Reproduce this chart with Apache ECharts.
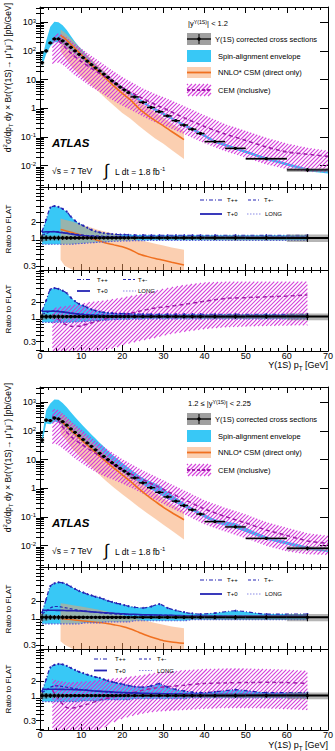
<!DOCTYPE html>
<html><head><meta charset="utf-8">
<script src="https://cdn.jsdelivr.net/npm/echarts@6/dist/echarts.min.js"></script>
<style>html,body{margin:0;padding:0;background:#fff}#c{width:335px;height:751px}</style>
</head><body><div id="c"></div>
<script>
// ---------------- DATA ----------------
const ptCenters = [0.5,1.5,2.5,3.5,4.5,5.5,6.5,7.5,8.5,9.5,10.5,11.5,12.5,13.5,14.5,15.5,16.5,17.5,18.5,19.5,20.5,21.5,23,25,27,29,31,33,35,37,39,42.5,47.5,55,65];
const ptLow = [0,1,2,3,4,5,6,7,8,9,10,11,12,13,14,15,16,17,18,19,20,21,22,24,26,28,30,32,34,36,38,40,45,50,60];
const ptHigh = [1,2,3,4,5,6,7,8,9,10,11,12,13,14,15,16,17,18,19,20,21,22,24,26,28,30,32,34,36,38,40,45,50,60,70];

const xsecCentral = [39,100,190,263,263,224,174,132,100,76,58,44,33,25.7,20,15.5,12,9.1,7.1,5.5,4.4,3.5,2.5,1.62,1.07,0.76,0.54,0.37,0.26,0.186,0.132,0.069,0.040,0.0174,0.0071];
const xsecForward = [48,240,230,282,263,209,158,117,89,68,50,38,29,22,16.6,12.9,10,7.8,6.2,4.9,4.0,3.2,2.3,1.55,1.05,0.72,0.5,0.355,0.25,0.178,0.126,0.069,0.045,0.018,0.0081];
const relUncCentral = [0.15,0.12,0.1,0.1,0.1,0.09,0.08,0.08,0.07,0.07,0.07,0.06,0.06,0.06,0.06,0.06,0.06,0.06,0.06,0.06,0.06,0.06,0.06,0.06,0.06,0.07,0.07,0.07,0.08,0.08,0.08,0.09,0.1,0.1,0.16];
const relUncForward = [0.16,0.13,0.11,0.1,0.1,0.09,0.08,0.08,0.07,0.07,0.07,0.06,0.06,0.06,0.06,0.06,0.06,0.06,0.06,0.06,0.06,0.06,0.06,0.06,0.06,0.07,0.07,0.07,0.08,0.08,0.08,0.09,0.1,0.1,0.16];

// spin-alignment ratios to FLAT (at bin centres)
const tppCentral = [1.32,2.2,3.7,3.95,3.8,3.5,3.1,2.5,2.1,1.85,1.7,1.55,1.42,1.33,1.27,1.23,1.2,1.18,1.16,1.15,1.15,1.14,1.13,1.13,1.12,1.12,1.12,1.12,1.12,1.12,1.12,1.12,1.12,1.12,1.12];
const tpmCentral = [1.12,1.2,1.3,1.32,1.3,1.27,1.24,1.2,1.17,1.15,1.13,1.11,1.1,1.09,1.08,1.07,1.07,1.06,1.06,1.06,1.05,1.05,1.05,1.05,1.05,1.05,1.05,1.05,1.05,1.05,1.05,1.05,1.05,1.05,1.05];
const tp0Central = [1.28,1.3,1.3,1.3,1.28,1.25,1.22,1.18,1.15,1.12,1.1,1.08,1.07,1.06,1.05,1.05,1.04,1.04,1.04,1.04,1.03,1.03,1.03,1.03,1.03,1.03,1.03,1.03,1.03,1.03,1.03,1.03,1.03,1.03,1.03];
const longCentral = [0.76,0.76,0.76,0.76,0.76,0.76,0.76,0.76,0.77,0.78,0.79,0.8,0.81,0.82,0.83,0.84,0.85,0.86,0.87,0.87,0.88,0.88,0.89,0.89,0.9,0.9,0.9,0.9,0.9,0.9,0.9,0.9,0.9,0.9,0.9];
const tppForward = [1.24,2.2,3.9,4.4,4.6,4.5,4.2,3.8,3.45,3.15,2.95,2.75,2.6,2.45,2.35,2.2,2.05,1.95,1.85,1.78,1.7,1.62,1.55,1.5,1.6,1.78,1.5,1.35,1.25,1.18,1.15,1.2,1.33,1.15,1.15];
const tpmForward = [1.15,1.3,1.5,1.6,1.6,1.55,1.5,1.45,1.4,1.36,1.33,1.3,1.27,1.24,1.22,1.2,1.18,1.16,1.15,1.14,1.13,1.12,1.11,1.1,1.1,1.1,1.09,1.08,1.07,1.07,1.06,1.06,1.06,1.05,1.05];
const tp0Forward = [1.35,1.36,1.36,1.36,1.35,1.35,1.34,1.34,1.33,1.32,1.31,1.29,1.27,1.25,1.24,1.22,1.21,1.2,1.18,1.17,1.16,1.15,1.14,1.12,1.11,1.1,1.09,1.08,1.07,1.06,1.06,1.05,1.05,1.05,1.05];
const longForward = [0.75,0.75,0.75,0.75,0.75,0.75,0.75,0.75,0.75,0.75,0.78,0.78,0.78,0.78,0.78,0.82,0.82,0.82,0.82,0.82,0.82,0.82,0.86,0.86,0.86,0.86,0.86,0.86,0.86,0.9,0.9,0.9,0.9,0.9,0.9];

// spin-alignment envelope in the cross-section panel
const envPt = [0.5,1.5,2.5,3.5,4.5,5.5,6.5,7.5,8.5,9.5,10.5,11.5,12.5,13.5,14.5,15.5,16.5,17.5,18.5,19.5,20.5,21.5,23,25,27,29,31,33,35,37,39,42.5,47.5,55,65,70];
const envUpCentral = [51,220,700,1040,1000,784,540,330,210,141,99,68,47,34,25.4,19,14.4,10.7,8.2,6.3,5.1,4.0,2.8,1.83,1.2,0.85,0.6,0.41,0.29,0.21,0.148,0.077,0.045,0.0195,0.008,0.0065];
const envLoCentral = [30,76,144,200,200,170,132,100,77,59,46,35,27,21,16.6,13,10.2,7.8,6.2,4.8,3.9,3.1,2.2,1.46,0.96,0.68,0.49,0.33,0.23,0.167,0.119,0.062,0.036,0.0157,0.0064,0.0053];
const envUpForward = [60,528,900,1240,1210,940,664,445,307,214,148,105,75,54,39,28.4,20.5,15.2,11.5,8.7,6.8,5.2,3.6,2.3,1.68,1.28,0.75,0.48,0.31,0.21,0.145,0.083,0.06,0.0207,0.0093,0.0068];
const envLoForward = [36,180,172,211,197,157,118,88,67,51,39,29.6,22.6,17.2,12.9,10.6,8.2,6.4,5.1,4.0,3.3,2.6,2.0,1.33,0.9,0.62,0.43,0.305,0.215,0.16,0.113,0.062,0.04,0.0162,0.0073,0.006];

// NNLO* CSM (direct only)
const csmPt = [5,6,8,10,12,14,16,18,20,22,24,26,28,30,32,35];
const csmCentral = [347,275,145,74,39,20.4,11,5.9,3.3,1.95,1.0,0.59,0.37,0.245,0.155,0.081];
const csmUpCentral = [562,437,229,115,60,32,17.8,9.5,5.4,3.2,1.82,1.12,0.71,0.46,0.295,0.158];
const csmLoCentral = [95,60,25,13.2,7.2,4.1,2.2,1.22,0.69,0.43,0.245,0.145,0.089,0.058,0.035,0.017];
const csmRatioCentral = [1.43,1.38,1.25,1.13,1.02,0.9,0.8,0.74,0.68,0.6,0.5,0.45,0.41,0.38,0.35,0.31];
const csmRatioUpCentral = [2.3,2.2,2.0,1.75,1.6,1.42,1.3,1.2,1.1,1.0,0.9,0.85,0.78,0.72,0.66,0.6];
const csmRatioLoCentral = [0.39,0.3,0.22,0.2,0.19,0.18,0.16,0.15,0.14,0.13,0.12,0.11,0.1,0.09,0.08,0.065];
const csmForward = [224,170,91,50,27.5,15.3,8.7,5.0,2.95,1.74,0.97,0.57,0.35,0.217,0.143,0.080];
const csmUpForward = [437,327,174,94,50,26.7,14.8,8.3,4.85,2.88,1.71,1.07,0.68,0.43,0.28,0.156];
const csmLoForward = [82,55,22.5,11.7,6.3,3.4,1.82,1.04,0.62,0.375,0.223,0.138,0.087,0.054,0.034,0.0163];
const csmRatioForward = [0.95,0.93,0.9,0.86,0.83,0.8,0.77,0.72,0.67,0.6,0.52,0.45,0.4,0.36,0.34,0.32];
const csmRatioUpForward = [1.85,1.8,1.7,1.6,1.5,1.4,1.3,1.2,1.1,1.0,0.92,0.85,0.78,0.72,0.67,0.62];
const csmRatioLoForward = [0.35,0.3,0.22,0.2,0.19,0.18,0.16,0.15,0.14,0.13,0.12,0.11,0.1,0.09,0.08,0.065];

// CEM (inclusive)
const cemPt = [3,4,5,6,7,8,10,12,14,16,18,20,22,25,28,31,35,40,45,50,55,60,65,70];
const cemCentral = [245,250,195,140,98,72,43,27.5,18,12.3,8.0,5.3,3.7,2.2,1.36,0.87,0.47,0.23,0.126,0.076,0.045,0.030,0.025,0.021];
const cemUpCentral = [335,407,392,330,257,200,122,76,48,30,19,12.3,8.5,4.9,3.16,2.14,1.2,0.57,0.28,0.163,0.094,0.059,0.042,0.033];
const cemLoCentral = [34,40,37,29.5,22,16,10,6.1,4.1,2.7,1.77,1.23,0.89,0.52,0.32,0.225,0.126,0.06,0.032,0.019,0.011,0.0075,0.0062,0.0058];
const cemForward = [326,263,176,110,76,56,35,22.5,14.9,9.9,6.6,4.5,3.23,2.0,1.26,0.78,0.41,0.19,0.104,0.062,0.035,0.0226,0.0146,0.012];
const cemUpForward = [552,578,468,355,263,195,115,66,40,25,15.9,10.4,7.2,4.2,2.6,1.6,0.85,0.377,0.209,0.123,0.066,0.042,0.027,0.022];
const cemLoForward = [33,35,28,22,16.6,12.3,7.7,5.0,3.4,2.5,1.94,1.46,1.07,0.65,0.4,0.24,0.126,0.055,0.031,0.018,0.0099,0.0063,0.005,0.0048];
const cemRatioPt = [3,4,5,6,7,8,10,12,14,16,18,20,22,25,28,31,35,40,45,50,55,60,65];
const cemRatioCentral = [1.1,0.95,0.8,0.7,0.64,0.62,0.64,0.72,0.8,0.9,1.0,1.08,1.17,1.35,1.52,1.62,1.8,2.1,2.4,2.5,2.6,2.7,2.85];
const cemRatioUpCentral = [1.5,1.55,1.6,1.65,1.7,1.75,1.85,2.0,2.1,2.2,2.35,2.5,2.7,3.0,3.5,4.0,4.6,5.2,5.4,5.4,5.4,5.4,5.4];
const cemRatioLoCentral = [0.15,0.15,0.15,0.15,0.14,0.14,0.15,0.16,0.18,0.2,0.22,0.25,0.28,0.32,0.36,0.42,0.48,0.55,0.6,0.62,0.64,0.65,0.66];
const cemRatioForward = [1.3,0.95,0.75,0.6,0.55,0.55,0.6,0.68,0.78,0.87,0.95,1.02,1.12,1.3,1.45,1.55,1.65,1.8,1.85,1.88,1.9,1.88,1.8];
const cemRatioUpForward = [2.2,2.1,2.0,1.95,1.9,1.9,1.95,2.0,2.1,2.2,2.3,2.35,2.5,2.7,3.0,3.2,3.4,3.6,3.7,3.7,3.6,3.5,3.3];
const cemRatioLoForward = [0.13,0.12,0.12,0.12,0.12,0.12,0.13,0.15,0.18,0.22,0.28,0.33,0.37,0.42,0.46,0.48,0.5,0.53,0.55,0.55,0.54,0.52,0.5];

const xTicks = [0,10,20,30,40,50,60,70];
const mainLabelValues = [0.01,0.1,1,10,100,1000];
const ratioLabelValues = [0.3,1,2];
const rapidityLabels = ['|y{s|\u03A5(1S)}| < 1.2', '1.2 \u2264 |y{s|\u03A5(1S)}| < 2.25'];

// ---------------- STYLE / LAYOUT ----------------
const FONT = "'Liberation Sans', Arial, Helvetica, sans-serif";
const BLUE = '#38c8f6';
const NAVY = '#2424b4';
const ORANGE = '#f07020';
const ORANGE_FILL = 'rgba(248,160,100,0.5)';
const MAGENTA = '#a020a8';
const HATCH_COLOR = '#d030d8';
const HATCH = {hatch: HATCH_COLOR};
const HATCH_W = 1.15;

// diagonal ("/") hatch line segments inside a pixel polygon
function hatchSegments(poly, step) {
  let minC = Infinity, maxC = -Infinity;
  poly.forEach(p => { const c = p[0] + p[1]; if (c < minC) minC = c; if (c > maxC) maxC = c; });
  const segs = [];
  const n = poly.length;
  for (let c = Math.ceil(minC / step) * step; c <= maxC; c += step) {
    const xs = [];
    for (let i = 0; i < n; i++) {
      const p = poly[i], q = poly[(i + 1) % n];
      const fp = p[0] + p[1] - c, fq = q[0] + q[1] - c;
      if ((fp < 0) !== (fq < 0)) { const t = fp / (fp - fq); xs.push(p[0] + t * (q[0] - p[0])); }
    }
    xs.sort((a, b) => a - b);
    for (let k = 0; k + 1 < xs.length; k += 2) segs.push([xs[k], c - xs[k], xs[k + 1], c - xs[k + 1]]);
  }
  return segs;
}
function hatchPath(poly, step) {
  return hatchSegments(poly, step).map(s => 'M' + s[0].toFixed(2) + ' ' + s[1].toFixed(2) + 'L' + s[2].toFixed(2) + ' ' + s[3].toFixed(2)).join('');
}

const gridTops = [7, 187, 270, 387, 567, 649];
const gridHeights = [180, 83, 81, 180, 82, 81];
const yRanges = [[0.0018, 3400], [0.25, 9], [0.19, 9.5], [0.0018, 3400], [0.25, 9], [0.19, 9.5]];

const grids = gridTops.map((t, i) => ({left: 40, top: t, width: 288, height: gridHeights[i], show: false, outerBoundsMode: 'none'}));

const xAxes = [];
gridTops.forEach((t, g) => {
  const showLab = (g === 2 || g === 5);
  ['bottom', 'top'].forEach(pos => {
    xAxes.push({
      type: 'value', gridIndex: g, position: pos, min: 0, max: 70, interval: 10,
      axisLine: {show: true, onZero: false, lineStyle: {color: '#000', width: 1}},
      axisTick: {show: true, inside: true, length: 6, lineStyle: {color: '#000', width: 1}},
      minorTick: {show: true, splitNumber: 5, length: 3, lineStyle: {color: '#000', width: 1}},
      axisLabel: {show: showLab && pos === 'bottom', color: '#000', fontSize: 9, fontFamily: FONT, margin: 0},
      splitLine: {show: false}, minorSplitLine: {show: false}
    });
  });
});

function logMinors(lo, hi) {
  const out = [];
  for (let e = -4; e <= 4; e++) for (let k = 2; k <= 9; k++) {
    const v = parseFloat((k * Math.pow(10, e)).toPrecision(6));
    if (v > lo && v < hi) out.push(v);
  }
  return out;
}
function mainFmt(v) {
  const e = Math.round(Math.log10(v));
  if (e === 0) return '1';
  if (e === 1) return '10';
  return '10{s|' + (e < 0 ? '-' : '') + Math.abs(e) + '}';
}
const yAxes = [];
gridTops.forEach((t, g) => {
  const isMain = (g % 3 === 0);
  const [mn, mx] = yRanges[g];
  const majors = isMain ? mainLabelValues : [1];
  const minors = logMinors(mn, mx).filter(v => majors.indexOf(v) < 0);
  const base = {type: 'log', logBase: 10, gridIndex: g, min: mn, max: mx, splitLine: {show: false}, minorTick: {show: false}};
  const lab = {
    show: true, customValues: isMain ? mainLabelValues : ratioLabelValues, color: '#000', fontSize: 9, fontFamily: FONT, margin: 4,
    formatter: isMain ? mainFmt : (v => String(v)),
    rich: {s: {fontSize: 6, fontFamily: FONT, verticalAlign: 'top', lineHeight: 7, color: '#000'}}
  };
  ['left', 'right'].forEach(pos => {
    yAxes.push(Object.assign({}, base, {position: pos,
      axisLine: {show: true, onZero: false, lineStyle: {color: '#000', width: 1}},
      axisTick: {show: true, inside: true, length: 8, customValues: majors, lineStyle: {color: '#000'}},
      axisLabel: pos === 'left' ? lab : {show: false}}));
    yAxes.push(Object.assign({}, base, {position: pos,
      axisLine: {show: false},
      axisTick: {show: true, inside: true, length: 4, customValues: minors, lineStyle: {color: '#000'}},
      axisLabel: {show: false}}));
  });
});

// ---------------- SERIES ----------------
const series = [];
function band(g, xs, lo, hi, fill, z) {
  const data = xs.map((x, i) => [x, lo[i], hi[i]]);
  series.push({
    type: 'custom', coordinateSystem: 'cartesian2d', xAxisIndex: 2 * g, yAxisIndex: 4 * g,
    data: data, z: z, clip: true, silent: true, animation: false,
    renderItem: function (params, api) {
      if (params.dataIndexInside !== 0) return null;
      const n = data.length;
      const up = [], dn = [];
      for (let i = 0; i < n; i++) {
        up.push(api.coord([api.value(0, i), api.value(2, i)]));
        dn.push(api.coord([api.value(0, i), api.value(1, i)]));
      }
      const cs = params.coordSys;
      const pts = up.concat(dn.reverse()).map(p => [p[0], Math.max(cs.y, Math.min(cs.y + cs.height, p[1]))]);
      if (fill && fill.hatch) {
        return {type: 'path', shape: {pathData: hatchPath(pts, 4)}, style: {stroke: fill.hatch, lineWidth: HATCH_W, fill: null, opacity: 0.9}};
      }
      return {type: 'polygon', shape: {points: pts}, style: {fill: fill}};
    }
  });
}
function curve(g, xs, ys, color, width, dash, z, sym) {
  series.push({
    type: 'line', xAxisIndex: 2 * g, yAxisIndex: 4 * g, z: z, silent: true, animation: false, clip: true,
    data: xs.map((x, i) => [x, ys[i]]),
    showSymbol: !!sym, symbol: 'circle', symbolSize: sym || 0, itemStyle: {color: color},
    smooth: 0.25, lineStyle: {color: color, width: width, type: dash || 'solid'}
  });
}
function points(g, vals, rel, isRatio) {
  const data = ptCenters.map((x, i) => {
    const v = isRatio ? vals[i] / vals[i] : vals[i];
    return [x, v, ptLow[i], ptHigh[i], v * (1 - rel[i]), v * (1 + rel[i])];
  });
  series.push({
    type: 'custom', coordinateSystem: 'cartesian2d', xAxisIndex: 2 * g, yAxisIndex: 4 * g,
    data: data, z: 20, clip: true, silent: true, animation: false,
    renderItem: function (params, api) {
      const c = api.coord([api.value(0), api.value(1)]);
      const l = api.coord([api.value(2), api.value(1)]);
      const r = api.coord([api.value(3), api.value(1)]);
      const b = api.coord([api.value(0), api.value(4)]);
      const t = api.coord([api.value(0), api.value(5)]);
      return {type: 'group', children: [
        {type: 'rect', shape: {x: l[0], y: t[1], width: r[0] - l[0], height: b[1] - t[1]}, style: {fill: 'rgba(120,120,120,0.55)'}},
        {type: 'line', shape: {x1: l[0], y1: c[1], x2: r[0], y2: c[1]}, style: {stroke: '#000', lineWidth: isRatio ? 2 : 1.3}},
        {type: 'line', shape: {x1: c[0], y1: t[1], x2: c[0], y2: b[1]}, style: {stroke: '#000', lineWidth: 1}},
        {type: 'circle', shape: {cx: c[0], cy: c[1], r: 1.6}, style: {fill: '#000'}}
      ]};
    }
  });
}

const blocks = [
  {xsec: xsecCentral, unc: relUncCentral, tpp: tppCentral, tpm: tpmCentral, tp0: tp0Central, lng: longCentral,
   envUp: envUpCentral, envLo: envLoCentral, csm: csmCentral, csmUp: csmUpCentral, csmLo: csmLoCentral,
   csmR: csmRatioCentral, csmRUp: csmRatioUpCentral, csmRLo: csmRatioLoCentral,
   cem: cemCentral, cemUp: cemUpCentral, cemLo: cemLoCentral, cemR: cemRatioCentral, cemRUp: cemRatioUpCentral, cemRLo: cemRatioLoCentral},
  {xsec: xsecForward, unc: relUncForward, tpp: tppForward, tpm: tpmForward, tp0: tp0Forward, lng: longForward,
   envUp: envUpForward, envLo: envLoForward, csm: csmForward, csmUp: csmUpForward, csmLo: csmLoForward,
   csmR: csmRatioForward, csmRUp: csmRatioUpForward, csmRLo: csmRatioLoForward,
   cem: cemForward, cemUp: cemUpForward, cemLo: cemLoForward, cemR: cemRatioForward, cemRUp: cemRatioUpForward, cemRLo: cemRatioLoForward}
];

blocks.forEach((B, b) => {
  const gm = 3 * b, g1 = 3 * b + 1, g2 = 3 * b + 2;
  // main panel
  band(gm, envPt, B.envLo, B.envUp, BLUE, 1);
  band(gm, csmPt, B.csmLo, B.csmUp, ORANGE_FILL, 2);
  band(gm, cemPt, B.cemLo, B.cemUp, HATCH, 3);
  curve(gm, csmPt, B.csm, ORANGE, 1.6, 'solid', 5);
  curve(gm, cemPt, B.cem, MAGENTA, 1.6, [4, 3], 6);
  points(gm, B.xsec, B.unc, false);
  // ratio panel 1 (NNLO* CSM)
  band(g1, ptCenters, B.lng, B.tpp, BLUE, 1);
  band(g1, csmPt, B.csmRLo, B.csmRUp, ORANGE_FILL, 2);
  curve(g1, csmPt, B.csmR, ORANGE, 1.5, 'solid', 6);
  // ratio panel 2 (CEM)
  band(g2, ptCenters, B.lng, B.tpp, BLUE, 1);
  band(g2, cemRatioPt, B.cemRLo, B.cemRUp, HATCH, 3);
  curve(g2, cemRatioPt, B.cemR, MAGENTA, 1.5, [4, 3], 6);
  [g1, g2].forEach(g => {
    curve(g, ptCenters, B.tpp, NAVY, 1.2, [4, 2, 1, 2], 7, 2);
    curve(g, ptCenters, B.tpm, NAVY, 1.2, [3, 2], 7);
    curve(g, ptCenters, B.tp0, NAVY, 1.6, 'solid', 7);
    curve(g, ptCenters, B.lng, '#5a5ad8', 1.2, [1.5, 1.5], 7);
    points(g, B.xsec, B.unc, true);
  });
});

// ---------------- TEXT / LEGENDS ----------------
const graphics = [];
function txt(x, y, text, size, opts) {
  graphics.push(Object.assign({type: 'text', x: x, y: y, z: 100, silent: true,
    style: Object.assign({text: text, fontSize: size, fontFamily: FONT, fill: '#000', verticalAlign: 'middle', align: 'left',
      rich: {s: {fontSize: size * 0.7, fontFamily: FONT, verticalAlign: 'top', lineHeight: size * 0.8},
             b: {fontSize: size * 0.7, fontFamily: FONT, verticalAlign: 'bottom', lineHeight: size * 0.8},
             n: {fontSize: size, fontFamily: FONT, lineHeight: size * 1.4}}},
      (opts && opts.style) || {})}, (opts && opts.el) || {}));
}
function seg(x1, y1, x2, y2, color, w, dash) {
  graphics.push({type: 'line', z: 100, silent: true, shape: {x1, y1, x2, y2}, style: {stroke: color, lineWidth: w, lineDash: dash || null}});
}
function box(x, y, w, h, fill) {
  if (fill && fill.hatch) {
    hatchSegments([[x, y], [x + w, y], [x + w, y + h], [x, y + h]], 4).forEach(s => {
      graphics.push({type: 'line', z: 99, silent: true, shape: {x1: s[0], y1: s[1], x2: s[2], y2: s[3]}, style: {stroke: fill.hatch, lineWidth: HATCH_W, opacity: 0.9}});
    });
    return;
  }
  graphics.push({type: 'rect', z: 99, silent: true, shape: {x, y, width: w, height: h}, style: {fill: fill}});
}

[0, 380].forEach((off, b) => {
  // y titles
  txt(8, 3 + off, '{n|d}{s|2}{n|\u03C3/dp}{b|T}{n| dy \u00D7 Br(\u03A5(1S)\u2192 \u03BC}{s|+}{n|\u03BC}{s|\u2212}{n|) [pb/GeV]}', 8.5,
      {el: {rotation: Math.PI / 2}, style: {align: 'right'}});
  txt(8, 229 + off, 'Ratio to FLAT', 8, {el: {rotation: Math.PI / 2}, style: {align: 'center'}});
  txt(8, 309 + off, 'Ratio to FLAT', 8, {el: {rotation: Math.PI / 2}, style: {align: 'center'}});
  // x title
  txt(328, 365 + off, '{n|\u03A5(1S) p}{b|T}{n| [GeV]}', 9, {style: {align: 'right'}});
  // ATLAS labels
  txt(52, 143 + off, 'ATLAS', 11.5, {style: {fontWeight: 'bold', fontStyle: 'italic'}});
  txt(52, 171 + off, '\u221As = 7 TeV', 8.5);
  txt(104, 170 + off, '\u222B', 17);
  txt(115, 172 + off, '{n|L dt = 1.8 fb}{s|-1}', 8.5);
  // main legend
  txt(188, 23 + off, rapidityLabels[b], 7.5);
  box(187, 33 + off, 24, 12, 'rgba(120,120,120,0.7)');
  seg(187, 39 + off, 211, 39 + off, '#000', 1.3);
  seg(199, 34 + off, 199, 44 + off, '#000', 1);
  graphics.push({type: 'circle', z: 101, silent: true, shape: {cx: 199, cy: 39 + off, r: 1.7}, style: {fill: '#000'}});
  txt(215, 39 + off, '\u03A5(1S) corrected cross sections', 7.5);
  box(187, 50 + off, 24, 12, BLUE);
  txt(218, 56 + off, 'Spin-alignment envelope', 7.5);
  box(187, 67 + off, 24, 11, ORANGE_FILL);
  seg(187, 72.5 + off, 211, 72.5 + off, ORANGE, 1.8);
  txt(218, 72 + off, 'NNLO* CSM (direct only)', 7.5);
  box(187, 84 + off, 24, 12, HATCH);
  seg(187, 90 + off, 211, 90 + off, MAGENTA, 1.8, [3, 2]);
  txt(218, 90 + off, 'CEM (inclusive)', 7.5);
  // ratio legend 1
  const r1y = 200 + off;
  seg(200, r1y, 222, r1y, NAVY, 1.2, [4, 2, 1, 2]);
  txt(227, r1y, 'T++', 6);
  seg(248, r1y, 259, r1y, NAVY, 1.2, [3, 2]);
  txt(264, r1y, 'T+-', 6);
  seg(200, r1y + 14, 222, r1y + 14, NAVY, 1.8);
  txt(227, r1y + 14, 'T+0', 6);
  seg(247, r1y + 14, 262, r1y + 14, '#8a8ae6', 1.2, [1.5, 1.5]);
  txt(265, r1y + 14, 'LONG', 6);
  // ratio legend 2
  const r2y = b === 0 ? 279.5 : 659 - 380 + off;
  const lx = b === 0 ? 77 : 94, tx = b === 0 ? 97 : 115, lx2 = b === 0 ? 123 : 139, tx2 = b === 0 ? 138 : 157;
  seg(lx, r2y, lx + 13, r2y, NAVY, 1.2, [4, 2, 1, 2]);
  txt(tx, r2y, 'T++', 6);
  seg(lx2, r2y, lx2 + 12, r2y, NAVY, 1.2, [3, 2]);
  txt(tx2, r2y, 'T+-', 6);
  seg(lx, r2y + 11.5, lx + 13, r2y + 11.5, NAVY, 1.8);
  txt(tx, r2y + 11.5, 'T+0', 6);
  seg(lx2, r2y + 11.5, lx2 + 13, r2y + 11.5, '#8a8ae6', 1.2, [1.5, 1.5]);
  txt(tx2, r2y + 11.5, 'LONG', 6);
});

const chart = echarts.init(document.getElementById('c'), null, {renderer: 'svg', width: 335, height: 751});
chart.setOption({
  animation: false,
  backgroundColor: '#fff',
  grid: grids,
  xAxis: xAxes,
  yAxis: yAxes,
  series: series,
  graphic: {elements: graphics}
});
</script>
</body></html>
